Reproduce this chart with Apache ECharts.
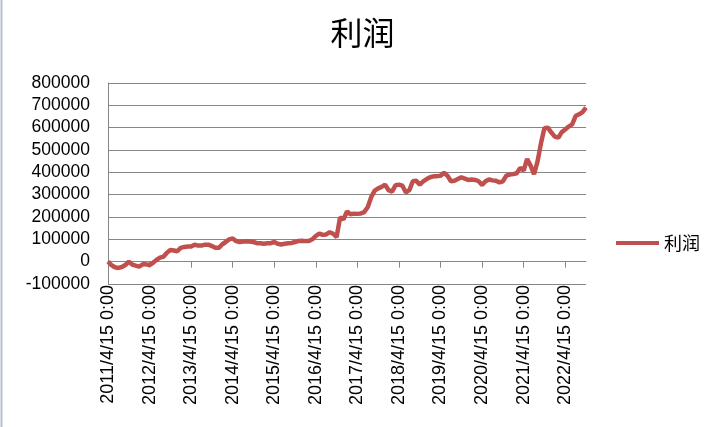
<!DOCTYPE html>
<html>
<head>
<meta charset="utf-8">
<script src="https://cdn.jsdelivr.net/npm/echarts@6/dist/echarts.min.js"></script>
<style>html,body{margin:0;padding:0;background:#fff}#c{width:725px;height:427px}</style>
</head>
<body>
<div id="c"></div>
<script>
// Monthly samples (15th of each month), 2011/4 .. 2022/10
var startYear = 2011, startMonth = 4, monthCount = 139;
var categories = [];
for (var k = 0; k < monthCount; k++) {
  var m = startMonth - 1 + k;
  categories.push((startYear + Math.floor(m / 12)) + '/' + (m % 12 + 1) + '/15 0:00');
}
// 利润 values (in yuan)
var profit = [
  0, -15000, -25000, -28000, -24000, -15000, 0, -13000, -18000, -22000,
  -12000, -12000, -15000, -5000, 8000, 18000, 22000, 40000, 52000, 50000,
  47000, 62000, 66000, 68000, 68000, 76000, 72000, 72000, 76000, 76000,
  70000, 62000, 62000, 78000, 88000, 100000, 104000, 92000, 88000, 90000,
  91000, 90000, 88000, 83000, 82000, 80000, 82000, 83000, 88000, 80000,
  77000, 80000, 82000, 84000, 88000, 93000, 94000, 92000, 92000, 100000,
  115000, 126000, 120000, 122000, 132000, 125000, 110000, 198000, 190000, 225000,
  212000, 215000, 214000, 216000, 222000, 245000, 290000, 318000, 328000, 335000,
  345000, 320000, 314000, 342000, 345000, 340000, 310000, 320000, 360000, 362000,
  345000, 360000, 370000, 378000, 382000, 383000, 385000, 398000, 385000, 360000,
  362000, 370000, 378000, 372000, 366000, 368000, 366000, 360000, 344000, 360000,
  368000, 364000, 362000, 355000, 360000, 385000, 390000, 392000, 396000, 420000,
  408000, 460000, 430000, 392000, 448000, 530000, 598000, 600000, 578000, 560000,
  555000, 580000, 592000, 605000, 615000, 652000, 660000, 670000, 690000
];
var seriesName = '利润';
var yMin = -100000, yMax = 800000, yStep = 100000;

var chart = echarts.init(document.getElementById('c'));
var grey = '#868686';
chart.setOption({
  animation: false,
  backgroundColor: '#ffffff',
  title: {
    text: seriesName,
    left: 'center',
    top: 12,
    textStyle: { fontFamily: 'Noto Sans CJK SC', fontSize: 32, fontWeight: 'normal', color: '#000' }
  },
  legend: {
    left: 616,
    top: 234,
    padding: 0,
    itemWidth: 43,
    itemHeight: 4,
    data: [{ name: seriesName, icon: 'rect' }],
    textStyle: { fontFamily: 'Noto Sans CJK SC', fontSize: 18, color: '#000' }
  },
  grid: { left: 108, right: 139, top: 83, bottom: 143, containLabel: false },
  xAxis: [
    {
      type: 'category',
      data: categories,
      boundaryGap: false,
      position: 'bottom',
      axisLine: { show: false, onZero: false },
      axisTick: { show: false },
      splitLine: { show: false },
      axisLabel: {
        interval: 11,
        rotate: 90,
        margin: 1,
        fontFamily: 'Liberation Sans',
        fontSize: 18,
        color: '#000'
      }
    },
    {
      type: 'category',
      data: categories,
      boundaryGap: false,
      position: 'bottom',
      axisLine: { show: true, onZero: true, lineStyle: { color: grey, width: 1 } },
      axisTick: { show: true, interval: 11, length: 6, lineStyle: { color: grey } },
      axisLabel: { show: false },
      splitLine: { show: false }
    }
  ],
  yAxis: {
    type: 'value',
    min: yMin,
    max: yMax,
    interval: yStep,
    axisLine: { show: true, lineStyle: { color: grey } },
    axisTick: { show: false },
    splitLine: { show: true, lineStyle: { color: grey, width: 1 } },
    axisLabel: {
      margin: 18, fontFamily: 'Liberation Sans', fontSize: 17.5, color: '#000',
      formatter: function (v) { return String(v); }
    }
  },
  series: [{
    name: seriesName,
    type: 'line',
    xAxisIndex: 0,
    data: profit,
    showSymbol: false,
    symbol: 'none',
    lineStyle: { color: '#C0504D', width: 4.5 },
    itemStyle: { color: '#C0504D' }
  }],
  graphic: [{
    type: 'line',
    shape: { x1: 1.5, y1: 0, x2: 1.5, y2: 427 },
    style: { stroke: '#B4C0CC', lineWidth: 2 }
  }]
});
</script>
</body>
</html>
